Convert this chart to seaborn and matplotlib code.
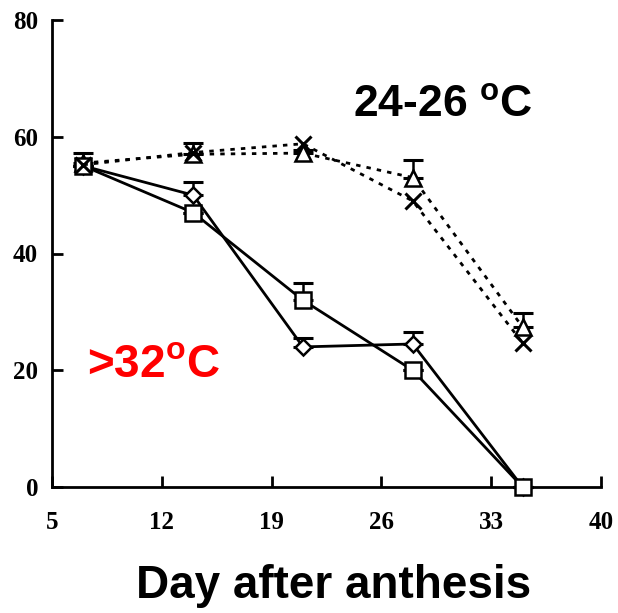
import numpy as np
import pandas as pd
import matplotlib
matplotlib.use("Agg")
import matplotlib.pyplot as plt
import seaborn as sns

# Data
days = [7, 14, 21, 28, 35]
hot_square = [55, 47, 32, 20, 0]
hot_square_err = [0, 0, 3, 0, 0]
hot_diamond = [55, 50, 24, 24.5, 0]
hot_diamond_err = [0, 2.2, 1.5, 2, 0]
cool_triangle = [55.5, 57, 57.2, 53, 27.4]
cool_triangle_err = [1.7, 2, 0.5, 3, 2.4]
cool_cross = [55.2, 57.3, 58.8, 49, 24.7]

x_ticks = [5, 12, 19, 26, 33, 40]
y_ticks = [0, 20, 40, 60, 80]

# drawing order: later series sit on top
filled = {
    "cool_triangle": cool_triangle,
    "hot_diamond": hot_diamond,
    "hot_square": hot_square,
}
df = pd.concat(
    [pd.DataFrame({"day": days, "value": v, "series": k}) for k, v in filled.items()],
    ignore_index=True,
)
df_cross = pd.DataFrame({"day": days, "value": cool_cross})

sns.set_theme(style="ticks")
plt.rcParams["font.family"] = ["Liberation Sans", "DejaVu Sans"]
plt.rcParams["mathtext.fontset"] = "custom"
plt.rcParams["mathtext.rm"] = "Liberation Sans:bold"
plt.rcParams["mathtext.it"] = "Liberation Sans:bold"
plt.rcParams["mathtext.bf"] = "Liberation Sans:bold"

fig = plt.figure(figsize=(6.18, 6.13), dpi=100)
ax = fig.add_axes([52 / 618, 1 - 487 / 613, 549 / 618, 467 / 613])

# error bars (upper only), drawn under the markers
for vals, err in [(hot_square, hot_square_err), (hot_diamond, hot_diamond_err),
                  (cool_triangle, cool_triangle_err)]:
    ax.errorbar(days, vals, yerr=[np.zeros(len(err)), err], fmt="none",
                ecolor="black", elinewidth=1.8, capsize=7, capthick=2.2, zorder=1)

dots = (1.6, 2.2)
sns.lineplot(
    data=df, x="day", y="value", hue="series", style="series",
    hue_order=list(filled), style_order=list(filled),
    palette={k: "black" for k in filled},
    markers={"hot_square": "s", "hot_diamond": "D", "cool_triangle": "^"},
    dashes={"hot_square": "", "hot_diamond": "", "cool_triangle": dots},
    linewidth=2, markersize=11, markerfacecolor="white", markeredgecolor="black",
    markeredgewidth=1.8, legend=False, ax=ax, zorder=3,
)
sns.lineplot(
    data=df_cross, x="day", y="value", color="black", marker="x",
    dashes=False, linestyle=(0, dots), linewidth=2, markersize=12,
    markeredgecolor="black", markeredgewidth=2.2, legend=False, ax=ax, zorder=4,
)
for line in ax.get_lines():
    line.set_clip_on(False)
    # diamond marker is larger than the square at the same size
    if line.get_marker() == "D":
        line.set_markersize(8)

ax.set_xlim(5, 40)
ax.set_ylim(0, 80)
ax.set_xticks(x_ticks)
ax.set_yticks(y_ticks)
ax.tick_params(direction="in", length=8, width=2, color="black")
ax.tick_params(axis="y", pad=10)
ax.tick_params(axis="x", pad=17)
for lab in ax.get_xticklabels() + ax.get_yticklabels():
    lab.set_fontfamily("Liberation Serif")
    lab.set_fontweight("bold")
    lab.set_fontsize(18)
    lab.set_color("black")

sns.despine(ax=ax)
for side in ["left", "bottom"]:
    ax.spines[side].set_linewidth(2)
    ax.spines[side].set_color("black")
ax.set_ylabel("")
ax.set_xlabel("Day after anthesis", fontsize=33, fontweight="bold",
              color="black", va="top")
ax.xaxis.set_label_coords(0.512, -0.165)

ax.text(24.2, 63.4, r"24-26 $^{\mathrm{o}}$C", fontsize=32, fontweight="bold",
        color="black", va="baseline", ha="left")
ax.text(7.2, 18.8, r">32$^{\mathrm{o}}$C", fontsize=33, fontweight="bold",
        color="#ff0000", va="baseline", ha="left")

fig.savefig("out.png", dpi=100)
